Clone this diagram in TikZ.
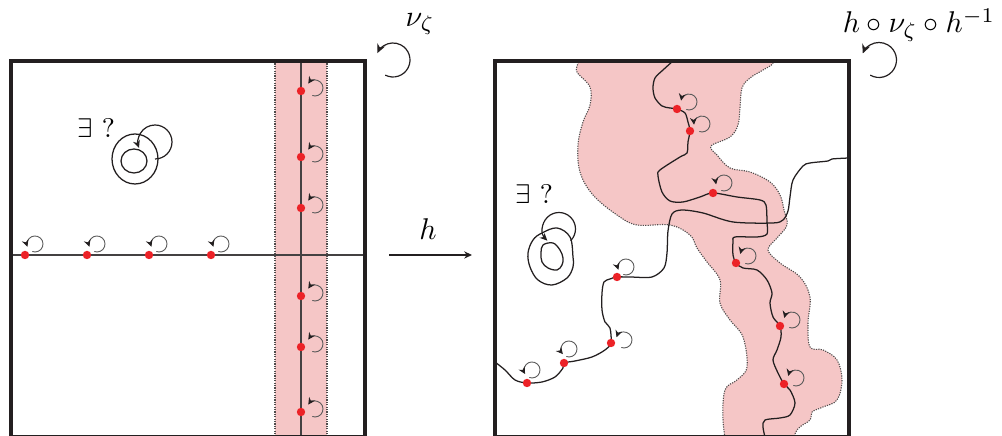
\documentclass[tikz,border=0pt]{standalone}
\usepackage{amsmath,amssymb}
\usepackage{xcolor}
\usepackage{tikz}
\usetikzlibrary{arrows.meta}
\definecolor{ink}{HTML}{231F20}
\definecolor{blush}{HTML}{F5C6C6}
\definecolor{spot}{HTML}{EC2227}
\definecolor{wire}{HTML}{5A5A5A}
\tikzset{frame/.style={ink,line width=1.35pt},
  curve/.style={ink,line width=0.42pt},
  axis/.style={ink!85,line width=0.35pt},
  rim/.style={ink!80,line width=0.36pt,dash pattern=on 0.4pt off 0.4pt},
  pt/.style={circle,fill=spot,inner sep=0pt,minimum size=2.8pt},
  spinarr/.style={wire,line width=0.3pt,-{Stealth[ink,length=2.3pt,width=2.3pt]}},
  looparr/.style={ink,line width=0.4pt,-{Stealth[length=2.5pt,width=2.3pt]}},
  bigarr/.style={ink,line width=0.4pt,-{Stealth[length=3pt,width=2.8pt]}}}
% small rotation arrow next to a fixed point: node, centre offset, end angle
\newcommand{\spin}[3]{\draw[spinarr] (#1) ++(#2) ++(110:8) arc[start angle=110,end angle=-#3,radius=8];}

\begin{document}
\begin{tikzpicture}[x=0.3333pt,y=-0.3333pt]
\useasboundingbox (0,0) rectangle (1002,436);
% left square
\fill[blush] (275,61) rectangle (327,437);
\draw[rim] (275,61) -- (275,437); \draw[rim] (327,61) -- (327,437);
\draw[axis] (301,61) -- (301,437); \draw[axis] (11,255) -- (365,255);
\foreach \n/\y in {1/91,2/157,3/208,4/296,5/347,6/412}{\node[pt] (v\n) at (301,\y) {}; \spin{v\n}{14,-3}{147}}
\foreach \n/\x in {1/25,2/87,3/149,4/211}{\node[pt] (u\n) at (\x,255) {}; \spin{u\n}{10,-11}{200}}
\node (lq) at (96,128) {\small$\exists$ ?};
\draw[curve] (135,159) ellipse [x radius=23,y radius=25];
\draw[curve] (134,161) ellipse [x radius=13,y radius=12];
\coordinate (lc) at (155,142);
\draw[looparr] (lc) ++(90:17) arc[start angle=90,end angle=-200,radius=17];
\draw[frame] (11,61) rectangle (365,437);
\node (nu) at (420,24) {$\nu_\zeta$};
\coordinate (ls) at (393,60);
\draw[bigarr] (ls) ++(117:17) arc[start angle=117,end angle=-156,radius=17];
% the map h
\coordinate (src) at (389,255); \coordinate (dst) at (472,255);
\draw[ink,line width=0.35pt,-{Stealth[length=2.6pt,width=2.4pt]}] (src) -- (dst);
\node (hl) at (428,229) {$h$};
% right square
\begin{scope}
\clip (495,61) rectangle (849,437);
\fill[blush] plot[smooth,tension=0.6] coordinates {(578,50) (578,63) (577,72) (590,87) (590,105) (583,122) (578,145) (580,172) (593,195) (617,215) (637,225) (670,225) (690,235) (697,248) (707,262) (720,280) (720,303) (730,320) (743,337) (747,367) (737,380) (725,390) (723,420) (727,450)}
  -- plot[smooth,tension=0.6] coordinates {(790,450) (797,430) (810,420) (812,412) (823,407) (837,400) (842,380) (837,360) (823,350) (810,347) (808,323) (810,297) (800,277) (780,263) (768,250) (777,238) (787,225) (784,210) (780,195) (770,182) (750,172) (730,168) (717,155) (711,146) (730,137) (738,125) (740,108) (742,88) (750,78) (763,70) (773,63) (773,50)} -- cycle;
\draw[rim] plot[smooth,tension=0.6] coordinates {(578,50) (578,63) (577,72) (590,87) (590,105) (583,122) (578,145) (580,172) (593,195) (617,215) (637,225) (670,225) (690,235) (697,248) (707,262) (720,280) (720,303) (730,320) (743,337) (747,367) (737,380) (725,390) (723,420) (727,450)};
\draw[rim] plot[smooth,tension=0.6] coordinates {(790,450) (797,430) (810,420) (812,412) (823,407) (837,400) (842,380) (837,360) (823,350) (810,347) (808,323) (810,297) (800,277) (780,263) (768,250) (777,238) (787,225) (784,210) (780,195) (770,182) (750,172) (730,168) (717,155) (711,146) (730,137) (738,125) (740,108) (742,88) (750,78) (763,70) (773,63) (773,50)};
\end{scope}
\coordinate (r1) at (677,109); \coordinate (r2) at (690,131); \coordinate (r3) at (713,193);
\coordinate (r4) at (736,263); \coordinate (r5) at (780,326); \coordinate (r6) at (784,384);
\coordinate (r7) at (617,277); \coordinate (r8) at (611,343); \coordinate (r9) at (564,363); \coordinate (r10) at (527,383);
\draw[curve] plot[smooth,tension=0.5] coordinates {(673,61) (663,70) (655,78) (653,88) (655,98) (662,106) (670,108) (r1) (685,113) (688,122) (r2) (688,142) (687,153) (680,157) (660,170) (658,176) (662,192) (670,201) (683,202) (700,197) (r3) (737,197) (760,200) (766,205) (767,222) (767,234) (757,237) (735,237) (733,242) (733,255) (r4) (743,268) (757,270) (767,280) (772,293) (770,303) (773,317) (r5) (781,337) (777,350) (773,360) (778,373) (r6) (790,390) (795,403) (790,415) (780,418) (765,420) (763,427) (765,437)};
\draw[curve] plot[smooth,tension=0.5] coordinates {(849,158) (832,159) (828,161) (810,163) (803,166) (793,180) (790,197) (788,211) (783,220) (773,223) (733,222) (703,213) (682,210) (672,214) (668,231) (667,253) (664,268) (652,277) (630,277) (r7) (610,279) (604,282) (602,293) (602,310) (605,322) (610,328) (r8) (605,350) (592,357) (575,361) (r9) (563,368) (555,377) (542,382) (r10) (515,380) (505,370) (495,362)};
\foreach \n in {1,...,10}{\node[pt] (d\n) at (r\n) {};}
\spin{d1}{12,-7}{170} \spin{d2}{12,-7}{185} \spin{d3}{11,-10}{190}
\spin{d4}{12,-7}{165} \spin{d5}{12,-6}{165} \spin{d6}{12,-6}{165}
\spin{d7}{9,-10}{200} \spin{d8}{13,-3}{160} \spin{d9}{5,-14}{220} \spin{d10}{5,-13}{210}
\node (rq) at (534,194) {\small$\exists$ ?};
\draw[curve] plot[smooth cycle,tension=0.6] coordinates {(557,228) (570,237) (573,257) (573,267) (567,278) (552,285) (538,280) (530,267) (528,253) (533,240) (542,233)};
\draw[curve] plot[smooth cycle,tension=0.6] coordinates {(543,245) (553,243) (560,250) (563,258) (562,265) (557,270) (548,268) (542,262) (541,253)};
\coordinate (rc) at (559,229);
\draw[looparr] (rc) ++(45:16.5) arc[start angle=45,end angle=-225,radius=16.5];
\draw[frame] (495,61) rectangle (849,437);
\node (conj) at (919,25) {$h\circ\nu_\zeta\circ h^{-1}$};
\coordinate (rs) at (879,60);
\draw[bigarr] (rs) ++(120:17.5) arc[start angle=120,end angle=-158,radius=17.5];
\end{tikzpicture}
\end{document}
